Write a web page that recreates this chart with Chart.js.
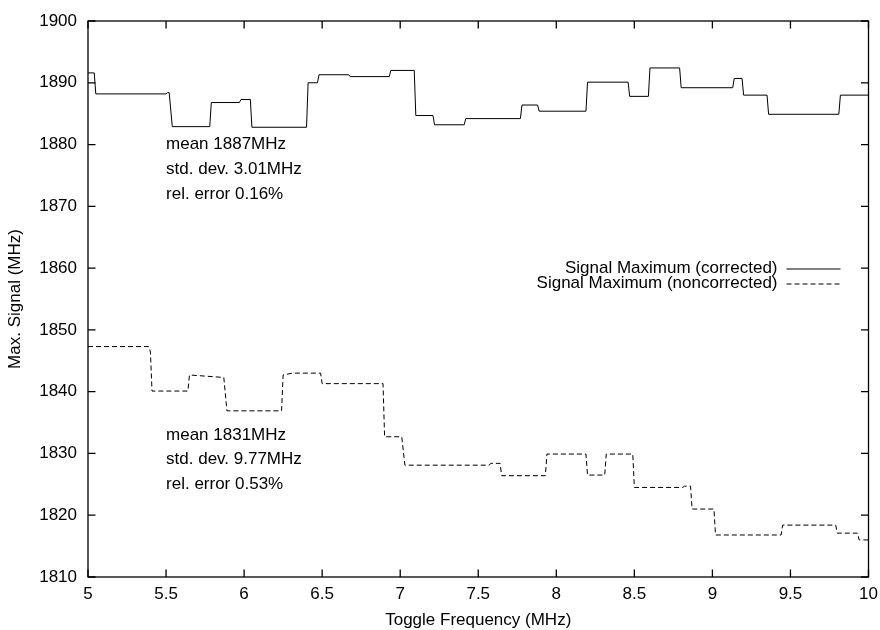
<!DOCTYPE html>
<html>
<head>
<meta charset="utf-8">
<script src="https://cdn.jsdelivr.net/npm/chart.js@4"></script>
<style>
html,body{margin:0;padding:0;background:#fff;}
#wrap{width:880px;height:630px;}
</style>
</head>
<body>
<div id="wrap"><canvas id="chart" width="880" height="630"></canvas></div>
<script>
// corner points of the step curves
const corrFreq = [5.00,5.04,5.05,5.50,5.51,5.52,5.54,5.78,5.79,5.97,5.98,6.04,6.05,6.40,6.41,6.47,6.48,6.67,6.68,6.93,6.94,7.09,7.10,7.21,7.22,7.41,7.42,7.77,7.78,7.88,7.89,8.19,8.20,8.46,8.47,8.59,8.60,8.79,8.80,9.13,9.14,9.19,9.20,9.35,9.36,9.81,9.82,10.00];
const corrSignal = [1891.6,1891.6,1888.2,1888.2,1888.4,1888.4,1882.9,1882.9,1886.8,1886.8,1887.3,1887.3,1882.8,1882.8,1890.0,1890.0,1891.3,1891.3,1891.0,1891.0,1892.0,1892.0,1884.7,1884.7,1883.2,1883.2,1884.2,1884.2,1886.4,1886.4,1885.4,1885.4,1890.1,1890.1,1887.8,1887.8,1892.4,1892.4,1889.2,1889.2,1890.7,1890.7,1888.0,1888.0,1884.9,1884.9,1888.0,1888.0];
const rawFreq = [5.00,5.39,5.40,5.41,5.64,5.65,5.87,5.89,6.24,6.25,6.31,6.49,6.50,6.89,6.90,7.01,7.03,7.57,7.58,7.64,7.65,7.93,7.94,8.19,8.20,8.31,8.32,8.49,8.50,8.81,8.82,8.86,8.87,9.01,9.02,9.44,9.45,9.79,9.80,9.93,9.94,10.00];
const rawSignal = [1847.3,1847.3,1846.4,1840.1,1840.1,1842.7,1842.3,1836.9,1836.9,1842.7,1843.0,1843.0,1841.3,1841.3,1832.7,1832.7,1828.1,1828.1,1828.4,1828.4,1826.4,1826.4,1829.9,1829.9,1826.5,1826.5,1829.9,1829.9,1824.5,1824.5,1824.7,1824.7,1821.0,1821.0,1816.8,1816.8,1818.4,1818.4,1817.1,1817.1,1816.0,1816.0];

const seriesNames = ['Signal Maximum (corrected)', 'Signal Maximum (noncorrected)'];
const corrNotes = ['mean 1887MHz', 'std. dev. 3.01MHz', 'rel. error 0.16%'];
const rawNotes = ['mean 1831MHz', 'std. dev. 9.77MHz', 'rel. error 0.53%'];
const corrNoteY = [1880, 1876, 1872];
const rawNoteY = [1833, 1829, 1825];
const noteX = 5.5;

const FONT = '17px "Liberation Sans", Arial, sans-serif';
const DASH = [5, 3];

Chart.defaults.font.family = '"Liberation Sans", Arial, sans-serif';
Chart.defaults.font.size = 17;
Chart.defaults.color = '#000';

const toPoints = (xs, ys) => xs.map((x, i) => ({x: x, y: ys[i]}));

// frame, inward ticks on all sides, key and the stats labels
const gnuplotLook = {
  id: 'gnuplotLook',
  afterDraw(chart) {
    const ctx = chart.ctx, a = chart.chartArea;
    const xs = chart.scales.x, ys = chart.scales.y;
    const tl = 7.5;
    ctx.save();
    ctx.strokeStyle = '#000';
    ctx.lineWidth = 1.3;
    ctx.setLineDash([]);
    ctx.strokeRect(a.left, a.top, a.right - a.left, a.bottom - a.top);
    ctx.beginPath();
    xs.ticks.forEach(t => {
      const px = xs.getPixelForValue(t.value);
      ctx.moveTo(px, a.bottom); ctx.lineTo(px, a.bottom - tl);
      ctx.moveTo(px, a.top); ctx.lineTo(px, a.top + tl);
    });
    ys.ticks.forEach(t => {
      const py = ys.getPixelForValue(t.value);
      ctx.moveTo(a.left, py); ctx.lineTo(a.left + tl, py);
      ctx.moveTo(a.right, py); ctx.lineTo(a.right - tl, py);
    });
    ctx.stroke();

    // key
    ctx.font = FONT;
    ctx.fillStyle = '#000';
    ctx.textBaseline = 'middle';
    ctx.textAlign = 'right';
    ctx.lineWidth = 1;
    const keyY = [a.top + 247.5, a.top + 262.5];
    seriesNames.forEach((name, i) => {
      ctx.fillText(name, a.right - 91, keyY[i]);
      ctx.setLineDash(i === 0 ? [] : DASH);
      ctx.beginPath();
      ctx.moveTo(a.right - 82, keyY[i] + 0.5);
      ctx.lineTo(a.right - 28, keyY[i] + 0.5);
      ctx.stroke();
    });

    // stats labels
    ctx.textAlign = 'left';
    const nx = xs.getPixelForValue(noteX);
    corrNotes.forEach((s, i) => ctx.fillText(s, nx, ys.getPixelForValue(corrNoteY[i])));
    rawNotes.forEach((s, i) => ctx.fillText(s, nx, ys.getPixelForValue(rawNoteY[i])));
    ctx.restore();
  }
};

new Chart(document.getElementById('chart'), {
  type: 'line',
  data: {
    datasets: [
      {label: seriesNames[0], data: toPoints(corrFreq, corrSignal), borderColor: '#000', borderWidth: 1, pointRadius: 0, tension: 0, fill: false},
      {label: seriesNames[1], data: toPoints(rawFreq, rawSignal), borderColor: '#000', borderWidth: 1, borderDash: DASH, pointRadius: 0, tension: 0, fill: false}
    ]
  },
  options: {
    responsive: false,
    animation: false,
    layout: {padding: {top: 21, right: 11.5, bottom: 0, left: 0}},
    plugins: {legend: {display: false}, tooltip: {enabled: false}},
    scales: {
      x: {
        type: 'linear', min: 5, max: 10,
        grid: {display: false, drawTicks: false},
        border: {display: false},
        ticks: {stepSize: 0.5, padding: 7, maxRotation: 0, callback: v => `${v}`},
        title: {display: true, text: 'Toggle Frequency (MHz)', padding: {top: 0, bottom: -1}},
        afterFit: s => { s.height = 53; s.paddingLeft = 0; s.paddingRight = 0; }
      },
      y: {
        min: 1810, max: 1900,
        grid: {display: false, drawTicks: false},
        border: {display: false},
        ticks: {stepSize: 10, padding: 11, callback: v => `${v}`},
        title: {display: true, text: 'Max. Signal (MHz)', padding: {top: 5, bottom: 0}},
        afterFit: s => { s.width = 88; s.paddingTop = 0; s.paddingBottom = 0; }
      }
    }
  },
  plugins: [gnuplotLook]
});
</script>
</body>
</html>
